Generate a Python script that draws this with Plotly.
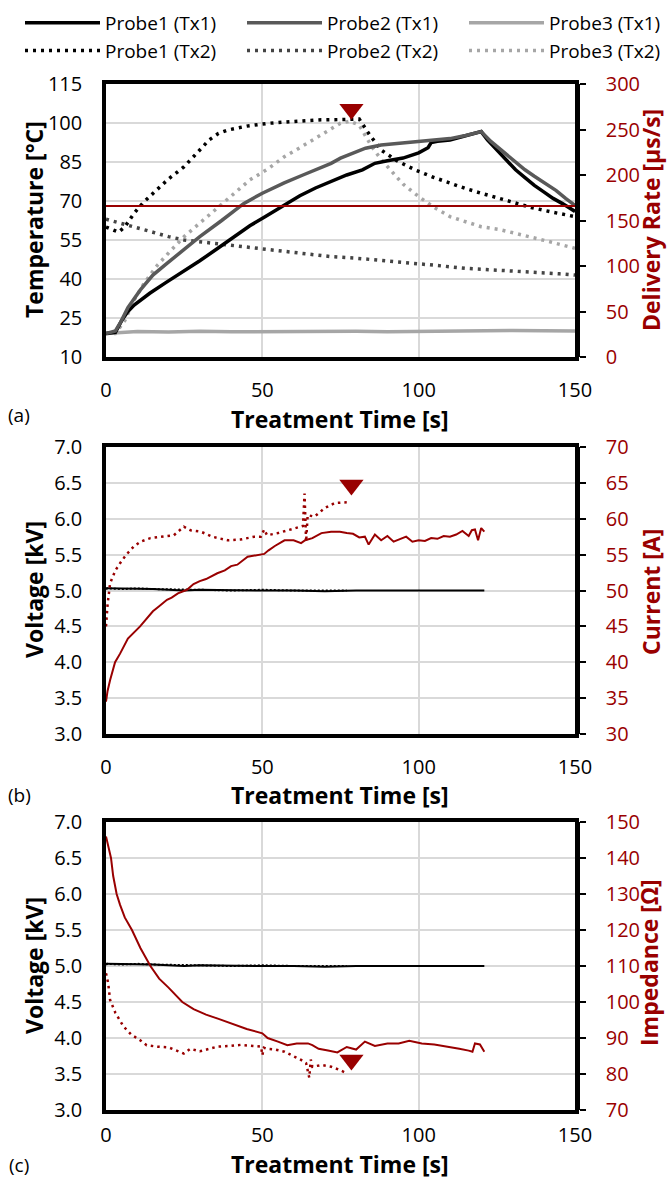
import plotly.graph_objects as go

RED = "#990000"
C1, C2, C3 = "#000000", "#595959", "#A6A6A6"
FONT = "Open Sans"

# ---------------- Panel (a) data ----------------
p1_tx1_t = [0, 3, 5, 7, 9, 14, 19, 24, 30, 36, 41, 46, 51, 57, 62, 67, 72, 77, 82, 86, 90, 95, 100, 103, 104, 106, 110, 115, 120,
            122, 125, 128, 131, 134, 137, 140, 143, 146, 150]
p1_tx1_T = [19, 19.5, 24, 27.5, 30, 34.5, 38.5, 42.3, 47, 52, 56.3, 60.5, 64, 68.5, 72, 75, 77.5, 80, 82, 84.5, 85.5, 86.5, 88.5, 90.5, 92.5, 93, 93.5, 95, 96.7,
            93.5, 89.5, 86, 82, 79, 76, 73.5, 71, 69, 66]

p2_tx1_t = [0, 3, 4.5, 7, 11, 15, 19.5, 25, 30, 37, 44, 50, 57, 63, 68, 72, 75, 79, 83, 88, 95, 101, 106, 110, 115, 120,
            123, 126, 128, 131, 134, 137, 140, 144, 147, 150]
p2_tx1_T = [19, 20, 23, 29, 35.8, 41.5, 46, 51.5, 56.3, 62.5, 69, 73, 77, 80, 82.5, 84.5, 86.5, 88.5, 90.3, 91.5, 92.2, 92.8, 93.5, 94, 95.2, 96.7,
            93, 90, 88, 85, 82, 79.5, 77, 74, 71, 68.3]

p3_tx1_t = [0, 5, 10, 20, 30, 40, 50, 60, 70, 80, 90, 100, 110, 120, 130, 140, 150]
p3_tx1_T = [19, 19.5, 19.8, 19.6, 19.9, 19.7, 19.8, 19.6, 19.7, 19.9, 19.7, 19.8, 20.2, 20.0, 20.2, 20.1, 20.0]

p1_tx2_t = [0, 2, 4, 6, 9, 12, 16, 20, 25, 29, 33, 36, 39, 45, 52, 60, 68, 74, 78, 81, 84, 88, 93, 99, 105, 110, 115, 120, 126, 131, 136, 142, 146, 150]
p1_tx2_T = [60, 59, 58, 60, 65.3, 69.5, 74.2, 78.5, 83.2, 88.5, 93.5, 96, 97.3, 98.8, 99.9, 100.6, 101.2, 101.3, 101.4, 101.5, 96, 89.6, 85.5, 81.9, 79, 76.8, 74.8, 73, 71, 69.1, 67.5, 65.9, 65, 64]

p2_tx2_t = [0, 5, 9, 15, 20, 25, 30, 36, 41, 50, 57, 65, 72, 80, 93, 105, 115, 125, 136, 145, 150]
p2_tx2_T = [63, 61.5, 60, 58, 56.3, 55, 54.3, 53.5, 53, 51.5, 50.5, 49.5, 48.6, 48, 46.7, 45.3, 44.1, 43.5, 42.8, 42, 41.5]

p3_tx2_t = [0, 3, 6, 9, 12, 16, 20, 25, 30, 36, 41, 46, 52, 57, 62, 68, 72, 75, 78, 81, 83, 85, 88, 91, 95, 100, 105, 110, 115, 120, 126, 131, 136, 142, 150]
p3_tx2_T = [19, 19, 24, 31.9, 38, 44.7, 50, 56.3, 61.5, 67.8, 73, 78.1, 82.5, 87, 90.5, 94.7, 97.5, 99.9, 100.7, 99.2, 95, 90.9, 86, 81.9, 76.5, 71.7, 67.5, 64, 62, 60.1, 59, 57.6, 56, 54.3, 51.8]

rate_t = [0, 150]
rate_v = [166, 166]

# ---------------- Panel (b) data ----------------
volt_tx1_t = [0, 0.5, 5, 10, 15, 20, 25, 30, 40, 50, 60, 70, 80, 90, 100, 110, 121]
volt_tx1_v = [5.03, 5.03, 5.02, 5.02, 5.02, 5.01, 5.0, 5.01, 5.0, 5.0, 5.0, 4.99, 5.0, 5.0, 5.0, 5.0, 5.0]
volt_tx2_t = [0, 0.5, 5, 10, 15, 20, 25, 30, 40, 50, 60, 70, 77]
volt_tx2_v = [5.02, 5.03, 5.02, 5.03, 5.02, 5.02, 5.01, 5.01, 5.0, 5.01, 5.0, 5.0, 5.0]

cur_tx1_t = [0, 0.5, 1.3, 2.9, 4.5, 7, 10.9, 13, 15, 17, 19.5, 21, 23, 25.9, 28, 30, 32, 35.6, 38, 40, 42, 45.3, 48, 50.6, 52, 54, 57.1, 60, 62.4, 63.7, 66, 68.9, 72, 74.8,
             77, 79, 81, 82.8, 84, 86, 88, 90, 92, 94, 96, 98, 100, 102, 104, 106, 108, 110, 112, 114, 116, 117, 118, 119, 120, 121]
cur_tx1_i = [34.5, 36, 37.5, 40, 41.2, 43.3, 45, 46, 47.1, 47.8, 48.7, 49, 49.6, 50.1, 50.9, 51.3, 51.6, 52.4, 52.8, 53.4, 53.6, 54.7, 54.9, 55.1, 55.6, 56.2, 57, 57, 56.6, 57, 57.3, 58, 58.2, 58.2,
             58, 57.9, 57.4, 57.5, 56.4, 57.8, 57, 57.6, 56.8, 57.2, 57.5, 56.8, 57, 56.9, 57.3, 57.2, 57.6, 57.5, 57.8, 58.3, 57.6, 58.4, 58.5, 57, 58.7, 58.2]
cur_tx2_t = [0, 0.5, 1.3, 3, 4.5, 6.5, 8.8, 11, 14.2, 18, 21.7, 24.9, 27, 30.3, 34, 38.9, 43, 47.4, 49.5, 50.6, 51.5, 55, 60.3, 63, 63.5, 64, 64.5, 66.7, 70, 73.2, 77]
cur_tx2_i = [45, 48, 51, 52.8, 53.8, 55, 56.1, 56.8, 57.3, 57.5, 57.7, 58.9, 58.4, 58.2, 57.5, 57, 57.1, 57.5, 57.5, 58.5, 57.7, 58, 58.7, 59, 63.5, 56.8, 60.5, 60.3, 61.5, 62.2, 62.3]

# ---------------- Panel (c) data ----------------
imp_tx1_t = [0, 0.5, 1, 1.6, 2.3, 3.4, 4.5, 6, 8.3, 11, 14.2, 17, 20, 24.4, 28, 32, 36, 40, 45, 50, 51.7, 55, 58, 61, 64.6, 66, 68, 71, 74, 77, 80, 82.8,
             86, 90, 93.6, 97, 101, 105, 109.7, 113, 116, 117.2, 118, 119.6, 121]
imp_tx1_z = [146, 144, 142, 140, 135, 130, 127, 123.5, 120, 115, 110, 106.5, 104, 100, 98, 96.5, 95.3, 94, 92.5, 91.3, 90, 89, 88, 88.5, 88.5, 88, 87, 86.5, 86, 87.5, 86.8, 89,
             87.8, 88.5, 88.5, 89.2, 88.5, 88.2, 87.6, 87, 86.5, 86.2, 88.5, 88.2, 86.2]
imp_tx2_t = [0, 0.7, 1.3, 3, 5.6, 8, 10.9, 13, 16.3, 20, 24.9, 27, 30, 35.6, 40, 43.1, 47, 49.6, 50, 50.5, 51.5, 54, 57.1, 60, 62.4, 64, 65, 65.5, 66, 68.9, 72.1, 74.8, 77]
imp_tx2_z = [108, 105.2, 100.6, 97, 93.2, 91, 89.4, 88, 87.6, 87.4, 85.7, 87, 86.3, 87.6, 87.8, 88.1, 87.8, 87.6, 85.2, 87.3, 87, 86.8, 86.2, 85, 83.9, 83, 79, 84, 82, 82.5, 82, 81.1, 80.2]

# end-of-treatment markers
mark_a = ([78.5], [105.3])
mark_b = ([78.5], [64.7])
mark_c = ([78.5], [83.9])

DOT = "3px,5px"
fig = go.Figure()

def add(x, y, xa, ya, color, width, dash="solid", name=None):
    fig.add_trace(go.Scatter(x=x, y=y, xaxis=xa, yaxis=ya, mode="lines",
                             line=dict(color=color, width=width, dash=dash),
                             name=name, showlegend=name is not None, hoverinfo="skip"))

# panel a
add(rate_t, rate_v, "x", "y2", RED, 2)
add(p3_tx1_t, p3_tx1_T, "x", "y", C3, 3.5, name="Probe3 (Tx1)")
add(p2_tx2_t, p2_tx2_T, "x", "y", "#444444", 3.5, DOT, name="Probe2 (Tx2)")
add(p3_tx2_t, p3_tx2_T, "x", "y", C3, 3.5, DOT, name="Probe3 (Tx2)")
add(p1_tx2_t, p1_tx2_T, "x", "y", C1, 3.5, DOT, name="Probe1 (Tx2)")
add(p1_tx1_t, p1_tx1_T, "x", "y", C1, 3.5, name="Probe1 (Tx1)")
add(p2_tx1_t, p2_tx1_T, "x", "y", C2, 3.5, name="Probe2 (Tx1)")
fig.add_trace(go.Scatter(x=mark_a[0], y=mark_a[1], xaxis="x", yaxis="y", mode="markers",
                         marker=dict(symbol="triangle-down", size=21, color=RED), showlegend=False, hoverinfo="skip"))
# panel b
add(volt_tx1_t, volt_tx1_v, "x2", "y3", C1, 2)
add(volt_tx2_t, volt_tx2_v, "x2", "y3", C1, 2, "2px,2px")
add(cur_tx1_t, cur_tx1_i, "x2", "y4", RED, 2)
add(cur_tx2_t, cur_tx2_i, "x2", "y4", RED, 2.5, "2.5px,4px")
fig.add_trace(go.Scatter(x=mark_b[0], y=mark_b[1], xaxis="x2", yaxis="y4", mode="markers",
                         marker=dict(symbol="triangle-down", size=21, color=RED), showlegend=False, hoverinfo="skip"))
# panel c
add(volt_tx1_t, volt_tx1_v, "x3", "y5", C1, 2)
add(volt_tx2_t, volt_tx2_v, "x3", "y5", C1, 2, "2px,2px")
add(imp_tx1_t, imp_tx1_z, "x3", "y6", RED, 2)
add(imp_tx2_t, imp_tx2_z, "x3", "y6", RED, 2.5, "2.5px,4px")
fig.add_trace(go.Scatter(x=mark_c[0], y=mark_c[1], xaxis="x3", yaxis="y6", mode="markers",
                         marker=dict(symbol="triangle-down", size=21, color=RED), showlegend=False, hoverinfo="skip"))

W, H = 667, 1180
XD = [106 / W, 575 / W]
def ydom(top, bot):
    return [1 - bot / H, 1 - top / H]

DA, DB, DC = ydom(84, 357), ydom(447, 734), ydom(822, 1110)

tickfont = dict(family=FONT, size=20, color="black")
redfont = dict(family=FONT, size=20, color=RED)

def xax(anchor, standoff=12):
    return dict(domain=XD, anchor=anchor, range=[0, 150], tickvals=[0, 50, 100, 150], showgrid=True,
                gridcolor="#D9D9D9", gridwidth=2, showline=True, linecolor="black", linewidth=3.5, mirror=True,
                ticks="", tickfont=tickfont, ticklabelstandoff=standoff, zeroline=False)

def yleft(dom, rng, vals, fmt, anchor):
    return dict(domain=dom, anchor=anchor, range=rng, tickvals=vals, ticktext=[fmt.format(v) for v in vals],
                showgrid=True, gridcolor="#D9D9D9", gridwidth=2, showline=True, linecolor="black", linewidth=3.5,
                mirror=True, ticks="", tickfont=tickfont, ticklabelstandoff=16, zeroline=False)

def yright(over, anchor, rng, vals):
    return dict(overlaying=over, anchor=anchor, side="right", range=rng, tickvals=vals, showgrid=False,
                showline=True, linecolor="black", linewidth=4.5, ticks="outside", ticklen=6, tickwidth=2,
                tickcolor="black", tickfont=redfont, ticklabelstandoff=16, zeroline=False)

va = list(range(10, 116, 15))
vb = [3.0 + 0.5 * i for i in range(9)]

fig.update_layout(
    width=W, height=H, margin=dict(l=0, r=0, t=0, b=0, autoexpand=False),
    paper_bgcolor="white", plot_bgcolor="white",
    font=dict(family=FONT, color="black"),
    xaxis=xax("y"), xaxis2=xax("y3"), xaxis3=xax("y5", 4),
    yaxis=yleft(DA, [10, 115], va, "{:d}", "x"),
    yaxis2=yright("y", "x", [0, 300], list(range(0, 301, 50))),
    yaxis3=yleft(DB, [3, 7], vb, "{:.1f}", "x2"),
    yaxis4=yright("y3", "x2", [30, 70], list(range(30, 71, 5))),
    yaxis5=yleft(DC, [3, 7], vb, "{:.1f}", "x3"),
    yaxis6=yright("y5", "x3", [70, 150], list(range(70, 151, 10))),
    legend=dict(orientation="h", x=20 / W, xanchor="left", y=1 - 4 / H, yanchor="top",
                font=dict(family=FONT, size=19, color="black"), entrywidth=132, entrywidthmode="pixels",
                itemwidth=75, traceorder="normal", tracegroupgap=0, bgcolor="rgba(0,0,0,0)"),
    showlegend=True,
)

ranks = {"Probe1 (Tx1)": 1, "Probe2 (Tx1)": 2, "Probe3 (Tx1)": 3, "Probe1 (Tx2)": 4, "Probe2 (Tx2)": 5, "Probe3 (Tx2)": 6}
for tr in fig.data:
    if tr.name in ranks:
        tr.legendrank = ranks[tr.name]

def ann(text, x, y, size=23, color="black", angle=0, bold=True):
    t = f"<b>{text}</b>" if bold else text
    fig.add_annotation(text=t, x=x / W, y=1 - y / H, xref="paper", yref="paper", showarrow=False,
                       textangle=angle, font=dict(family=FONT, size=size, color=color),
                       xanchor="center", yanchor="middle")

ann("Temperature [°C]", 34, 220, angle=-90)
ann("Delivery Rate [µs/s]", 651, 220, color=RED, angle=-90)
ann("Treatment Time [s]", 340, 419)
ann("(a)", 19, 415, size=19, bold=False)
ann("Voltage [kV]", 34, 590, angle=-90)
ann("Current [A]", 651, 592, color=RED, angle=-90)
ann("Treatment Time [s]", 340, 795)
ann("(b)", 19, 795, size=19, bold=False)
ann("Voltage [kV]", 34, 966, angle=-90)
ann("Impedance [Ω]", 649, 963, color=RED, angle=-90)
ann("Treatment Time [s]", 340, 1164)
ann("(c)", 19, 1165, size=19, bold=False)

fig.write_html("out.html", config={"displayModeBar": False},
               post_script="document.body.style.margin='0';document.body.style.overflow='hidden';")
